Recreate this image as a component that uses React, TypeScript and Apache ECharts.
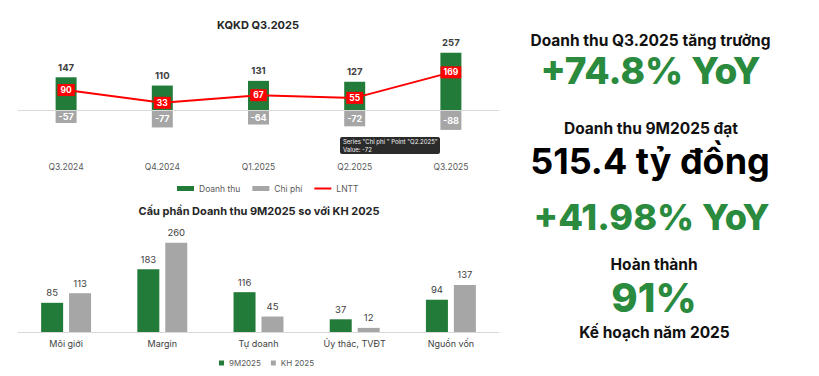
import React, { useEffect, useRef } from "react";
import * as echarts from "echarts";

const quarters = ["Q3.2024", "Q4.2024", "Q1.2025", "Q2.2025", "Q3.2025"];
const revenue = [147, 110, 131, 127, 257];
const cost = [-57, -77, -64, -72, -88];
const profit = [90, 33, 67, 55, 169];

const segments = ["Môi giới", "Margin", "Tự doanh", "Ủy thác, TVĐT", "Nguồn vốn"];
const actual9M = [85, 183, 116, 37, 94];
const plan2025 = [113, 260, 45, 12, 137];

const GREEN = "#237b3a";
const GREY = "#a6a6a6";
const RED = "#ff0000";
const TEXT_GREEN = "#2a8a3e";
const FONT = "Inter, 'Noto Sans', sans-serif";

export default function App() {
  const ref = useRef<HTMLDivElement>(null);
  useEffect(() => {
    if (!ref.current) return;
    const chart = echarts.init(ref.current, undefined, { renderer: "svg" });
    const rightText = (text: string, x: number, y: number, size: number, color: string, weight = 800) => ({
      type: "text",
      x,
      y,
      style: {
        text,
        fill: color,
        font: `${weight} ${size}px ${FONT}`,
        lineHeight: Math.round(size * 0.95),
        textAlign: "center",
        textVerticalAlign: "middle",
      },
    });
    chart.setOption({
      animation: false,
      textStyle: { fontFamily: FONT },
      grid: [
        { left: 18, right: 320, top: 43, bottom: 221 },
        { left: 18, right: 320, top: 229, bottom: 44 },
      ],
      xAxis: [
        {
          type: "category",
          gridIndex: 0,
          data: quarters,
          axisLine: { show: false },
          axisTick: { show: false },
          axisLabel: { color: "#595959", fontSize: 8.5, margin: 7 },
        },
        {
          type: "category",
          gridIndex: 1,
          data: segments,
          axisLine: { show: true, lineStyle: { color: "#d9d9d9" } },
          axisTick: { show: false },
          axisLabel: { color: "#404040", fontSize: 9, margin: 7 },
        },
      ],
      yAxis: [
        { type: "value", gridIndex: 0, min: -200, max: 300, show: false, splitLine: { show: false } },
        { type: "value", gridIndex: 1, min: 0, max: 300, show: false, splitLine: { show: false } },
      ],
      legend: [
        {
          left: 172,
          top: 179,
          itemWidth: 17,
          itemHeight: 5,
          itemGap: 12,
          textStyle: { color: "#595959", fontSize: 8.5, fontFamily: FONT },
          data: [
            { name: "Doanh thu", icon: "rect" },
            { name: "Chi phí", icon: "rect" },
            { name: "LNTT", icon: "path://M0,0H17V2H0Z" },
          ],
        },
        {
          left: 214,
          top: 354,
          itemWidth: 5,
          itemHeight: 5,
          itemGap: 10,
          textStyle: { color: "#595959", fontSize: 8, fontFamily: FONT },
          data: [
            { name: "9M2025", icon: "rect" },
            { name: "KH 2025", icon: "rect" },
          ],
        },
      ],
      series: [
        {
          name: "Doanh thu",
          type: "bar",
          xAxisIndex: 0,
          yAxisIndex: 0,
          stack: "kq",
          barWidth: 21,
          data: revenue,
          itemStyle: { color: GREEN },
          label: {
            show: true,
            position: "top",
            distance: 5,
            color: "#404040",
            fontWeight: "bold",
            fontSize: 9.5,
          },
          markLine: {
            silent: true,
            symbol: "none",
            label: { show: false },
            lineStyle: { color: "#d9d9d9", type: "solid", width: 1 },
            data: [{ yAxis: 0 }],
          },
        },
        {
          name: "Chi phí",
          type: "bar",
          xAxisIndex: 0,
          yAxisIndex: 0,
          stack: "kq",
          barWidth: 21,
          data: cost,
          itemStyle: { color: GREY },
          label: {
            show: true,
            position: "inside",
            color: "#ffffff",
            fontWeight: "bold",
            fontSize: 9,
          },
        },
        {
          name: "LNTT",
          type: "line",
          xAxisIndex: 0,
          yAxisIndex: 0,
          data: profit,
          symbol: "rect",
          symbolSize: 1,
          itemStyle: { color: RED },
          lineStyle: { color: RED, width: 2 },
          z: 5,
          label: {
            show: true,
            position: "inside",
            color: "#ffffff",
            fontWeight: "bold",
            fontSize: 8.5,
            backgroundColor: RED,
            padding: [2, 3, 1, 3],
          },
        },
        {
          name: "9M2025",
          type: "bar",
          xAxisIndex: 1,
          yAxisIndex: 1,
          barWidth: 22,
          barGap: "27%",
          data: actual9M,
          itemStyle: { color: GREEN },
          label: { show: true, position: "top", distance: 5, color: "#404040", fontSize: 9.5 },
        },
        {
          name: "KH 2025",
          type: "bar",
          xAxisIndex: 1,
          yAxisIndex: 1,
          barWidth: 22,
          barGap: "27%",
          data: plan2025,
          itemStyle: { color: GREY },
          label: { show: true, position: "top", distance: 5, color: "#404040", fontSize: 9.5 },
        },
      ],
      graphic: [
        {
          type: "text",
          x: 258,
          y: 25,
          style: {
            text: "KQKD Q3.2025",
            fill: "#262626",
            font: `bold 11px ${FONT}`,
            textAlign: "center",
            textVerticalAlign: "middle",
          },
        },
        {
          type: "text",
          x: 259,
          y: 211,
          style: {
            text: "Cấu phần Doanh thu 9M2025 so với KH 2025",
            fill: "#262626",
            font: `bold 11px ${FONT}`,
            textAlign: "center",
            textVerticalAlign: "middle",
          },
        },
        {
          type: "group",
          x: 340,
          y: 137,
          z: 100,
          children: [
            {
              type: "rect",
              shape: { x: 0, y: 0, width: 100, height: 17, r: 2 },
              style: { fill: "#2b2b2b" },
            },
            {
              type: "text",
              x: 3,
              y: 4.5,
              style: {
                text: 'Series "Chi phí " Point "Q2.2025"',
                fill: "#f2f2f2",
                font: `6px ${FONT}`,
                textVerticalAlign: "middle",
              },
            },
            {
              type: "text",
              x: 3,
              y: 12,
              style: {
                text: "Value: -72",
                fill: "#f2f2f2",
                font: `6px ${FONT}`,
                textVerticalAlign: "middle",
              },
            },
          ],
        },
        rightText("Doanh thu Q3.2025 tăng trưởng", 650.5, 40, 15.5, "#111111", 700),
        rightText("+74.8% YoY", 650.5, 70, 37, TEXT_GREEN, 800),
        rightText("Doanh thu 9M2025 đạt", 651, 128, 15.5, "#111111", 700),
        rightText("515.4 tỷ đồng", 650, 161, 36, "#000000", 700),
        rightText("+41.98% YoY", 651.5, 217, 36, TEXT_GREEN, 800),
        rightText("Hoàn thành", 654, 264, 15.5, "#111111", 700),
        rightText("91%", 654, 297, 40, TEXT_GREEN, 800),
        rightText("Kế hoạch năm 2025", 654.5, 332, 15.5, "#111111", 700),
      ],
    });
    return () => chart.dispose();
  }, []);
  return (
    <div
      ref={ref}
      style={{ position: "fixed", left: 0, top: 0, width: 819, height: 376, background: "#ffffff" }}
    />
  );
}
